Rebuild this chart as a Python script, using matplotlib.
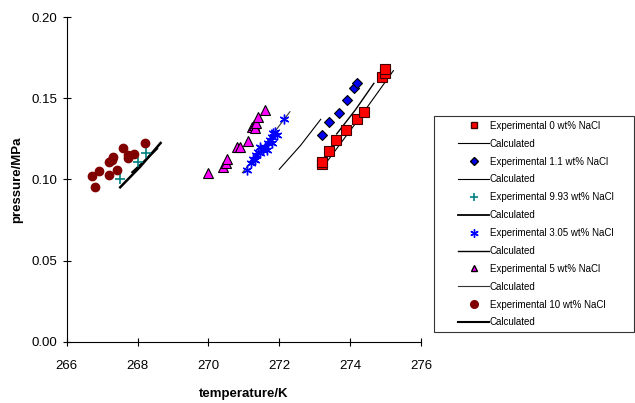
import matplotlib
matplotlib.use("Agg")
import matplotlib.pyplot as plt
from matplotlib.lines import Line2D
from matplotlib.legend_handler import HandlerLine2D

plt.rcParams['font.family'] = ['Liberation Sans', 'DejaVu Sans']

# experimental points (temperature/K, pressure/MPa)
t_0 = [273.21, 273.21, 273.40, 273.60, 273.89, 274.19, 274.40, 274.89, 274.99, 274.99]
p_0 = [0.1096, 0.1110, 0.1176, 0.1244, 0.1303, 0.1373, 0.1414, 0.1634, 0.1655, 0.1679]

t_11 = [273.21, 273.40, 273.69, 273.90, 274.11, 274.19]
p_11 = [0.1276, 0.1353, 0.1408, 0.1490, 0.1562, 0.1595]

t_993 = [267.50, 268.02, 268.23]
p_993 = [0.1001, 0.1110, 0.1165]

t_305 = [271.08, 271.20, 271.27, 271.31, 271.33, 271.41, 271.46, 271.46, 271.55,
         271.60, 271.64, 271.69, 271.74, 271.79, 271.79, 271.83, 271.88, 271.93, 272.14]
p_305 = [0.1059, 0.1100, 0.1125, 0.1120, 0.1151, 0.1172, 0.1162, 0.1202, 0.1182,
         0.1202, 0.1182, 0.1223, 0.1244, 0.1264, 0.1223, 0.1285, 0.1295, 0.1274, 0.1371]

t_5 = [269.99, 270.42, 270.49, 270.52, 270.80, 270.89, 271.11, 271.22, 271.30,
       271.32, 271.33, 271.41, 271.60]
p_5 = [0.1038, 0.1079, 0.1100, 0.1126, 0.1202, 0.1202, 0.1239, 0.1325, 0.1336,
       0.1316, 0.1350, 0.1387, 0.1429]

t_10 = [266.71, 266.80, 266.91, 267.20, 267.20, 267.27, 267.32, 267.41, 267.60,
        267.72, 267.72, 267.90, 268.21]
p_10 = [0.1023, 0.0952, 0.1054, 0.1028, 0.1106, 0.1120, 0.1141, 0.1059, 0.1192,
        0.1131, 0.1151, 0.1157, 0.1223]

# calculated curves
tc_0 = [273.24, 274.20, 275.22]
pc_0 = [0.1079, 0.1360, 0.1671]
tc_11 = [273.62, 274.15, 274.67]
pc_11 = [0.1281, 0.1430, 0.1593]
tc_993 = [267.85, 268.20, 268.55]
pc_993 = [0.1045, 0.1115, 0.1190]
tc_305 = [272.00, 272.60, 273.17]
pc_305 = [0.1063, 0.1210, 0.1371]
tc_5 = [270.96, 271.63, 272.30]
pc_5 = [0.1042, 0.1225, 0.1418]
tc_10 = [267.51, 268.08, 268.65]
pc_10 = [0.0952, 0.1080, 0.1225]


class ShiftedLine(HandlerLine2D):
    """Legend handler that leaves an empty gap on the left of the handle."""
    shift = 14  # points

    def create_artists(self, legend, orig_handle, xdescent, ydescent, width,
                       height, fontsize, trans):
        return super().create_artists(legend, orig_handle, xdescent - self.shift,
                                      ydescent, width - self.shift, height,
                                      fontsize, trans)


fig = plt.figure(figsize=(6.35, 4.03), dpi=100)
ax = fig.add_axes([66.7 / 635, 1 - 341.7 / 403, (421 - 66.7) / 635, (341.7 - 17.3) / 403])

# calculated lines
ax.plot(tc_0, pc_0, color='black', lw=0.8)
ax.plot(tc_11, pc_11, color='black', lw=1.0)
ax.plot(tc_993, pc_993, color='black', lw=1.5)
ax.plot(tc_305, pc_305, color='black', lw=0.8)
ax.plot(tc_5, pc_5, color='#333333', lw=0.8)
ax.plot(tc_10, pc_10, color='black', lw=1.8)

# experimental markers
ax.plot(t_0, p_0, 's', ms=6.5, mfc='red', mec='#400000', mew=0.8, ls='none')
ax.plot(t_11, p_11, 'D', ms=5.5, mfc='#0000ee', mec='black', mew=0.8, ls='none')
ax.plot(t_993, p_993, '+', ms=7, color='#008080', mew=1.2, ls='none')
ax.plot(t_305, p_305, marker=(6, 2, 0), ms=7, color='#0000ff', mew=1.0, ls='none')
ax.plot(t_5, p_5, '^', ms=6.5, mfc='#ff00ff', mec='black', mew=0.8, ls='none')
ax.plot(t_10, p_10, 'o', ms=6, mfc='#800000', mec='#800000', ls='none')

ax.set_xlim(266, 276)
ax.set_ylim(0, 0.20)
ax.set_xticks([266, 268, 270, 272, 274, 276])
ax.set_yticks([0.00, 0.05, 0.10, 0.15, 0.20])
ax.set_yticklabels(['0.00', '0.05', '0.10', '0.15', '0.20'])
ax.spines['top'].set_visible(False)
ax.spines['right'].set_visible(False)
ax.tick_params(direction='inout', length=6, width=0.8, labelsize=9.5)
ax.tick_params(axis='x', pad=10)
ax.tick_params(axis='y', pad=3.5)
ax.set_xlabel('temperature/K', fontsize=9.5, fontweight='bold', labelpad=12)
ax.set_ylabel('pressure/MPa', fontsize=9.5, fontweight='bold', labelpad=6)

# legend
handles = [
    Line2D([], [], marker='s', ms=5, mfc='red', mec='#400000', ls='none'),
    Line2D([], [], color='black', lw=0.8),
    Line2D([], [], marker='D', ms=4.5, mfc='#0000ee', mec='black', ls='none'),
    Line2D([], [], color='black', lw=0.8),
    Line2D([], [], marker='+', ms=6, color='#008080', mew=1.2, ls='none'),
    Line2D([], [], color='black', lw=1.3),
    Line2D([], [], marker=(6, 2, 0), ms=6, color='#0000ff', ls='none'),
    Line2D([], [], color='black', lw=1.0),
    Line2D([], [], marker='^', ms=5, mfc='#ff00ff', mec='black', ls='none'),
    Line2D([], [], color='#333333', lw=0.8),
    Line2D([], [], marker='o', ms=5.5, mfc='#800000', mec='#800000', ls='none'),
    Line2D([], [], color='black', lw=1.5),
]
labels = ['Experimental 0 wt% NaCl', 'Calculated',
          'Experimental 1.1 wt% NaCl', 'Calculated',
          'Experimental 9.93 wt% NaCl', 'Calculated',
          'Experimental 3.05 wt% NaCl', 'Calculated',
          'Experimental 5 wt% NaCl', 'Calculated',
          'Experimental 10 wt% NaCl', 'Calculated']
leg = fig.legend(handles, labels, loc='upper left',
                 bbox_to_anchor=(434 / 635, 1 - 116 / 403 - 0.01, 200 / 635, 0.01),
                 mode='expand', fontsize=7.0, frameon=True, fancybox=False,
                 handlelength=5.2, handletextpad=0.05, labelspacing=0.81,
                 borderpad=0.5, borderaxespad=0,
                 handler_map={Line2D: ShiftedLine()})
leg.get_frame().set_edgecolor('black')
leg.get_frame().set_linewidth(0.8)

fig.savefig('out.png', dpi=100)
